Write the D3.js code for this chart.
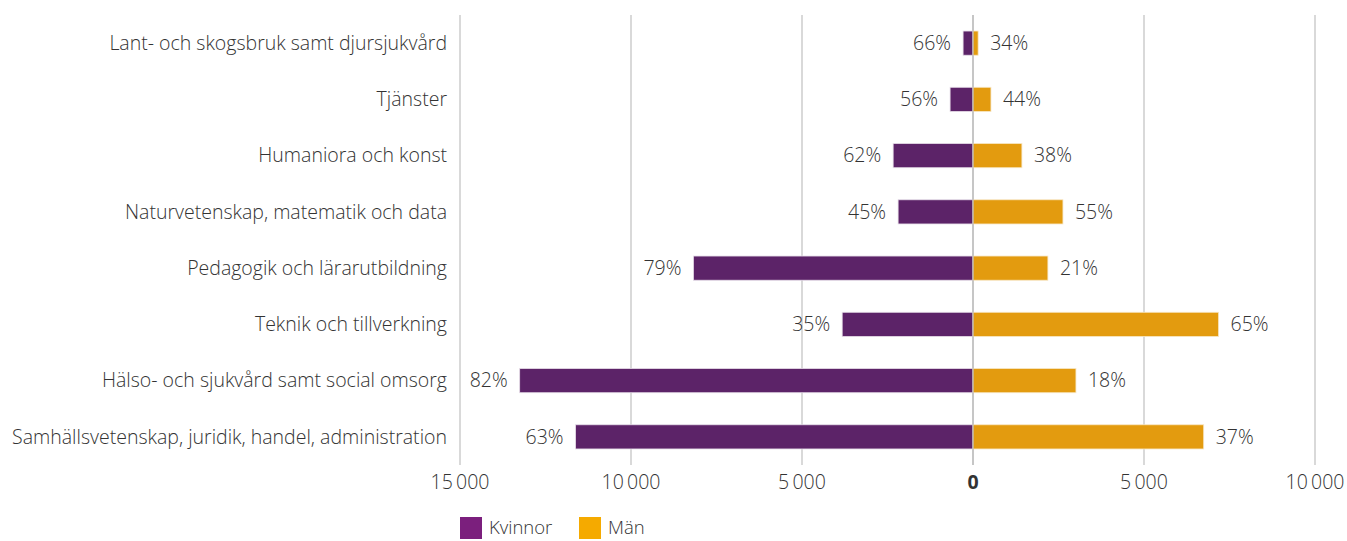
<!DOCTYPE html>
<html>
<head>
<meta charset="utf-8">
<script src="https://cdn.jsdelivr.net/npm/d3@7"></script>
<style>
  body { margin: 0; background: #fff; }
  svg text { font-family: "Open Sans", Lato, sans-serif; fill: #333; font-weight: 300; }
</style>
</head>
<body>
<svg width="1347" height="541"></svg>
<script>
const categories = [
  "Lant- och skogsbruk samt djursjukvård",
  "Tjänster",
  "Humaniora och konst",
  "Naturvetenskap, matematik och data",
  "Pedagogik och lärarutbildning",
  "Teknik och tillverkning",
  "Hälso- och sjukvård samt social omsorg",
  "Samhällsvetenskap, juridik, handel, administration"
];
const kvinnor = [290, 670, 2335, 2190, 8175, 3825, 13255, 11620];
const man = [150, 525, 1430, 2630, 2190, 7180, 3010, 6745];
const kvinnorPct = ["66%", "56%", "62%", "45%", "79%", "35%", "82%", "63%"];
const manPct = ["34%", "44%", "38%", "55%", "21%", "65%", "18%", "37%"];
const ticks = [-15000, -10000, -5000, 0, 5000, 10000];

let svg = d3.select('svg');
let fs = 19.5;

let x = d3.scaleLinear().domain([-15000, 10000]).range([460, 1315]);
let y = d3.scaleBand().domain(categories).range([15, 465]).paddingInner(0.57).paddingOuter(0.285);

// grid lines
svg.append('g').selectAll('line').data(ticks).join('line')
  .attr('x1', d => x(d)).attr('x2', d => x(d))
  .attr('y1', 15).attr('y2', 465)
  .attr('stroke', '#b3b3b3').attr('stroke-width', 1);

// tick labels
let fmt = v => d3.format(',')(Math.abs(v)).replace(/,/g, '\u2009');
svg.append('g').selectAll('text').data(ticks).join('text')
  .attr('x', d => x(d)).attr('y', 489)
  .attr('text-anchor', 'middle')
  .attr('font-size', fs)
  .style('font-weight', d => d === 0 ? 700 : 300)
  .text(d => fmt(d));

// category labels
svg.append('g').selectAll('text').data(categories).join('text')
  .attr('x', 447).attr('y', d => y(d) + y.bandwidth() / 2)
  .attr('dy', '0.35em')
  .attr('text-anchor', 'end')
  .attr('font-size', fs)
  .text(d => d);

// bars
let rows = categories.map((c, i) => ({ c, k: kvinnor[i], m: man[i], kp: kvinnorPct[i], mp: manPct[i] }));

svg.append('g').selectAll('rect').data(rows).join('rect')
  .attr('x', d => x(-d.k)).attr('width', d => x(0) - x(-d.k))
  .attr('y', d => y(d.c)).attr('height', y.bandwidth())
  .attr('fill', '#5c2368').attr('stroke', '#e6dde8').attr('stroke-width', 0.8);

svg.append('g').selectAll('rect').data(rows).join('rect')
  .attr('x', x(0)).attr('width', d => x(d.m) - x(0))
  .attr('y', d => y(d.c)).attr('height', y.bandwidth())
  .attr('fill', '#e39b0f').attr('stroke', '#f7e6c4').attr('stroke-width', 0.8);

// zero line
svg.append('line')
  .attr('x1', x(0)).attr('x2', x(0)).attr('y1', 15).attr('y2', 465)
  .attr('stroke', '#b3b3b3').attr('stroke-width', 1);

// percent labels
svg.append('g').selectAll('text').data(rows).join('text')
  .attr('x', d => x(-d.k) - 12).attr('y', d => y(d.c) + y.bandwidth() / 2)
  .attr('dy', '0.35em').attr('text-anchor', 'end').attr('font-size', fs)
  .text(d => d.kp);

svg.append('g').selectAll('text').data(rows).join('text')
  .attr('x', d => x(d.m) + 12).attr('y', d => y(d.c) + y.bandwidth() / 2)
  .attr('dy', '0.35em').attr('text-anchor', 'start').attr('font-size', fs)
  .text(d => d.mp);

// legend
let legend = [{ name: 'Kvinnor', color: '#7b1f7d', x: 460 }, { name: 'Män', color: '#f5aa00', x: 579 }];
let lg = svg.append('g').selectAll('g').data(legend).join('g')
  .attr('transform', d => `translate(${d.x}, 517)`);
lg.append('rect').attr('width', 22).attr('height', 22).attr('fill', d => d.color);
lg.append('text').attr('x', 29).attr('y', 11).attr('dy', '0.35em').attr('font-size', 18.5).text(d => d.name);
</script>
</body>
</html>
